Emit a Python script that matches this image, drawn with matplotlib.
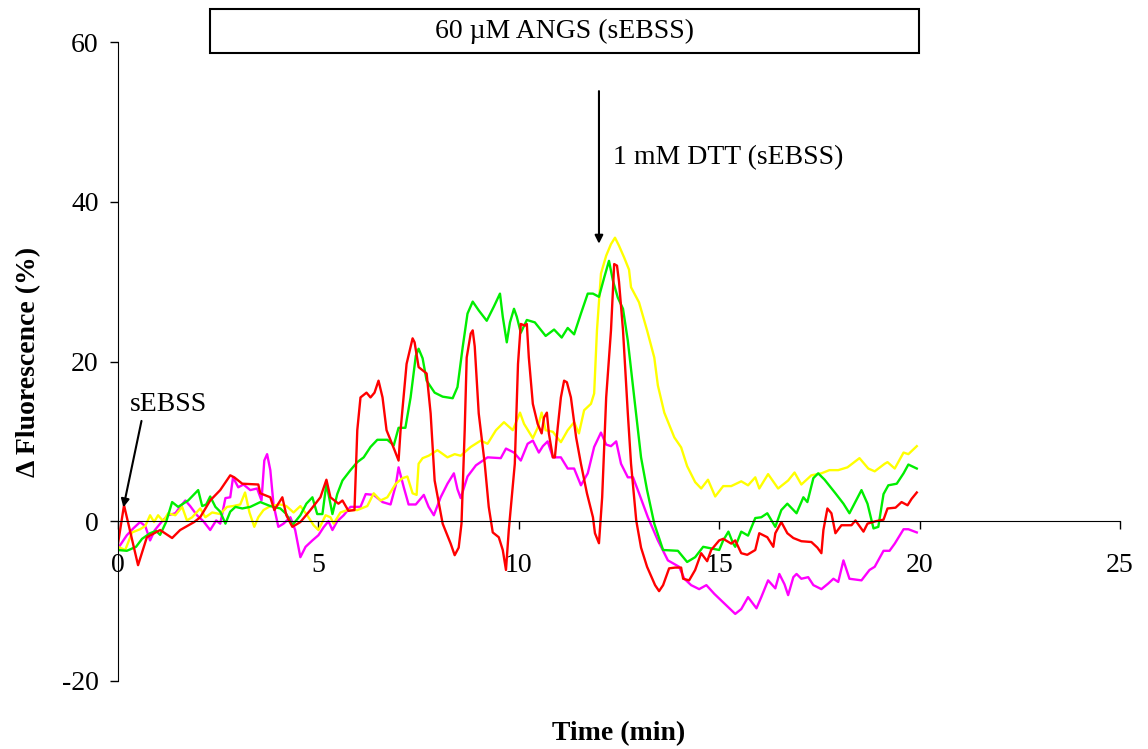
import numpy as np
import matplotlib
matplotlib.use('Agg')
import matplotlib.pyplot as plt
from matplotlib.patches import Rectangle

plt.rcParams['font.family'] = ['Liberation Serif', 'DejaVu Serif']
plt.rcParams['axes.unicode_minus'] = False

# (time in min, delta fluorescence in %)
red_pts = [
    (0, -2.8), (0.15, 2.0), (0.5, -5.5), (0.72, -2.0), (1.05, -1.1), (1.35, -2.1),
    (1.55, -1.1), (1.9, -0.1), (2.05, 0.5), (2.3, 2.6), (2.55, 3.9), (2.8, 5.75),
    (2.9, 5.5), (3.1, 4.7), (3.5, 4.6), (3.55, 3.5), (3.8, 3.0), (3.9, 1.4),
    (4.1, 3.0), (4.2, 0.75), (4.35, -0.7), (4.55, -0.1), (4.8, 1.4), (5.05, 3.0),
    (5.2, 5.2), (5.3, 3.0), (5.5, 2.2), (5.6, 2.6), (5.75, 1.3), (5.9, 1.4),
    (5.97, 11.4), (6.05, 15.5), (6.2, 16.1), (6.3, 15.5), (6.4, 16.1), (6.5, 17.6),
    (6.6, 15.5), (6.7, 11.4), (6.9, 8.9), (7.0, 7.6), (7.05, 11.4), (7.2, 19.7),
    (7.35, 22.9), (7.4, 22.4), (7.5, 19.3), (7.7, 18.5), (7.8, 13.5), (7.9, 5.1),
    (8.1, -0.3), (8.3, -2.8), (8.4, -4.25), (8.5, -3.3), (8.57, -0.3), (8.65, 11.4),
    (8.7, 20.5), (8.8, 23.5), (8.85, 23.9), (8.9, 21.9), (9.0, 13.5), (9.15, 7.2),
    (9.25, 1.8), (9.35, -1.4), (9.5, -2.0), (9.6, -3.6), (9.68, -6.1), (9.75, -1.1),
    (9.9, 7.2), (9.98, 19.7), (10.05, 24.7), (10.15, 24.5), (10.2, 24.7), (10.25, 20.5),
    (10.35, 14.7), (10.47, 12.2), (10.57, 11.0), (10.63, 13.0), (10.7, 13.6), (10.75, 11.0),
    (10.85, 8.0), (10.9, 8.0), (10.97, 11.7), (11.05, 15.5), (11.13, 17.6), (11.2, 17.4),
    (11.3, 15.5), (11.43, 10.5), (11.55, 7.2), (11.7, 3.5), (11.85, 0.5), (11.9, -1.5),
    (12.0, -2.75), (12.08, 3.0), (12.18, 15.5), (12.3, 23.9), (12.38, 32.2), (12.45, 32.0),
    (12.5, 30.0), (12.6, 23.9), (12.72, 13.5), (12.8, 7.2), (12.93, 0.1), (13.05, -3.3),
    (13.2, -5.7), (13.4, -8.0), (13.5, -8.75), (13.6, -8.0), (13.75, -5.9), (13.9, -5.8),
    (14.05, -5.8), (14.1, -7.2), (14.25, -7.4), (14.4, -6.1), (14.55, -4.0), (14.7, -5.0),
    (14.8, -3.6), (15.0, -2.4), (15.1, -2.2), (15.3, -2.8), (15.4, -2.4), (15.55, -4.0),
    (15.7, -4.2), (15.9, -3.6), (16.0, -1.5), (16.2, -2.0), (16.35, -3.2), (16.4, -1.5),
    (16.55, -0.1), (16.7, -1.5), (16.85, -2.1), (17.05, -2.5), (17.3, -2.6), (17.45, -3.3),
    (17.55, -4.0), (17.6, -1.1), (17.7, 1.6), (17.8, 1.0), (17.9, -1.5), (18.05, -0.5),
    (18.3, -0.5), (18.4, 0.1), (18.6, -1.3), (18.7, -0.3), (18.9, 0.0), (19.1, 0.2),
    (19.2, 1.6), (19.4, 1.7), (19.55, 2.4), (19.7, 2.0), (19.8, 2.8), (19.93, 3.6),
]

green_pts = [
    (0, -3.6), (0.22, -3.7), (0.45, -3.2), (0.6, -2.2), (0.8, -1.5), (0.95, -1.2),
    (1.05, -1.7), (1.2, -0.1), (1.35, 2.4), (1.5, 1.8), (1.75, 2.6), (2.0, 3.9),
    (2.1, 1.9), (2.2, 2.1), (2.3, 3.1), (2.43, 1.8), (2.55, 1.2), (2.68, -0.3),
    (2.8, 1.2), (2.93, 1.8), (3.1, 1.6), (3.3, 1.8), (3.55, 2.4), (3.8, 1.9),
    (4.05, 1.6), (4.2, 0.9), (4.35, -0.5), (4.55, 0.75), (4.7, 2.2), (4.85, 3.0),
    (4.97, 0.9), (5.1, 0.9), (5.2, 4.7), (5.35, 0.9), (5.47, 3.4), (5.6, 5.1),
    (5.8, 6.4), (5.97, 7.4), (6.13, 8.0), (6.3, 9.3), (6.47, 10.2), (6.72, 10.2),
    (6.88, 9.5), (7.0, 11.7), (7.17, 11.7), (7.3, 15.5), (7.43, 20.7), (7.5, 21.6),
    (7.6, 20.4), (7.7, 17.6), (7.9, 16.1), (8.1, 15.6), (8.35, 15.4), (8.47, 16.8),
    (8.6, 21.8), (8.72, 26.0), (8.85, 27.5), (9.0, 26.4), (9.2, 25.1), (9.38, 26.9),
    (9.53, 28.5), (9.6, 25.6), (9.7, 22.4), (9.78, 24.9), (9.88, 26.6), (9.95, 25.6),
    (10.05, 23.6), (10.2, 25.2), (10.4, 24.9), (10.67, 23.2), (10.88, 24.0), (11.07, 23.0),
    (11.22, 24.2), (11.38, 23.4), (11.55, 26.0), (11.72, 28.5), (11.85, 28.5), (12.0, 28.1),
    (12.13, 30.5), (12.25, 32.6), (12.35, 30.1), (12.47, 28.0), (12.6, 26.6), (12.72, 22.6),
    (12.88, 15.5), (13.05, 8.0), (13.2, 3.9), (13.38, -0.3), (13.6, -3.6), (13.97, -3.7),
    (14.2, -5.1), (14.4, -4.5), (14.6, -3.2), (14.8, -3.4), (15.0, -3.6), (15.1, -2.4),
    (15.23, -1.3), (15.35, -2.8), (15.4, -3.2), (15.55, -1.3), (15.72, -1.8), (15.9, 0.4),
    (16.05, 0.5), (16.2, 1.0), (16.4, -0.7), (16.55, 1.4), (16.7, 2.2), (16.93, 1.0),
    (17.1, 3.0), (17.2, 2.4), (17.35, 5.4), (17.47, 6.0), (17.63, 5.2), (17.9, 3.5),
    (18.1, 2.2), (18.25, 1.0), (18.55, 3.9), (18.7, 2.2), (18.85, -0.9), (18.97, -0.7),
    (19.1, 3.4), (19.22, 4.5), (19.43, 4.7), (19.6, 6.0), (19.72, 7.1), (19.93, 6.6),
]

yellow_pts = [
    (0, -3.2), (0.18, -3.6), (0.35, -1.4), (0.55, -1.0), (0.68, -0.6), (0.8, 0.75),
    (0.9, -0.1), (1.0, 0.75), (1.13, 0.0), (1.25, 1.0), (1.43, 0.75), (1.6, 1.8),
    (1.72, 0.1), (1.85, 0.5), (2.05, 1.6), (2.18, 0.5), (2.35, 1.1), (2.55, 0.9),
    (2.72, 1.8), (2.87, 1.9), (3.05, 2.1), (3.17, 3.6), (3.28, 1.1), (3.4, -0.7),
    (3.5, 0.5), (3.63, 1.4), (3.8, 1.9), (4.05, 2.1), (4.2, 1.9), (4.38, 1.1),
    (4.55, 1.9), (4.72, 0.75), (4.88, -0.5), (5.0, -1.1), (5.18, 0.75), (5.3, 0.5),
    (5.38, -0.3), (5.55, 1.1), (5.72, 1.4), (5.97, 1.4), (6.22, 1.9), (6.38, 3.5),
    (6.55, 2.6), (6.72, 3.0), (6.93, 4.7), (7.1, 5.4), (7.22, 5.6), (7.35, 3.5),
    (7.45, 3.3), (7.5, 7.2), (7.6, 7.9), (7.75, 8.2), (7.97, 8.9), (8.22, 8.0),
    (8.4, 8.4), (8.55, 8.2), (8.8, 9.3), (9.05, 10.1), (9.22, 9.7), (9.43, 11.4),
    (9.63, 12.4), (9.85, 11.4), (10.03, 13.6), (10.13, 12.2), (10.35, 10.4), (10.47, 11.7),
    (10.57, 13.6), (10.67, 11.4), (10.85, 11.2), (11.05, 9.9), (11.22, 11.4), (11.38, 12.4),
    (11.5, 11.0), (11.63, 13.9), (11.8, 14.7), (11.88, 16.0), (11.95, 23.9), (12.05, 31.0),
    (12.18, 33.25), (12.3, 34.7), (12.4, 35.5), (12.5, 34.5), (12.63, 33.0), (12.75, 31.5),
    (12.8, 29.3), (13.0, 27.4), (13.2, 23.9), (13.38, 20.5), (13.47, 17.0), (13.63, 13.6),
    (13.88, 10.5), (14.05, 9.25), (14.2, 6.9), (14.4, 4.9), (14.55, 4.1), (14.72, 5.2),
    (14.9, 3.1), (15.1, 4.4), (15.3, 4.4), (15.55, 5.0), (15.72, 4.5), (15.9, 5.5),
    (16.0, 4.1), (16.22, 5.9), (16.47, 4.1), (16.72, 5.1), (16.88, 6.1), (17.05, 4.6),
    (17.3, 5.75), (17.55, 6.0), (17.75, 6.4), (17.97, 6.4), (18.2, 6.75), (18.5, 7.9),
    (18.72, 6.6), (18.88, 6.25), (19.13, 7.2), (19.2, 7.4), (19.38, 6.6), (19.6, 8.6),
    (19.72, 8.4), (19.93, 9.4),
]

magenta_pts = [
    (0, -3.4), (0.22, -1.75), (0.38, -0.9), (0.55, -0.1), (0.68, -0.6), (0.8, -2.4),
    (0.92, -1.1), (1.1, 0.0), (1.25, 0.75), (1.43, 1.0), (1.55, 1.8), (1.68, 2.6),
    (1.8, 1.9), (1.97, 0.75), (2.13, 0.0), (2.3, -1.1), (2.45, 0.1), (2.55, -0.3),
    (2.68, 2.9), (2.8, 3.0), (2.87, 5.5), (3.0, 4.25), (3.13, 4.6), (3.3, 3.9),
    (3.47, 4.1), (3.58, 2.6), (3.65, 7.6), (3.72, 8.4), (3.8, 6.4), (3.88, 2.1),
    (4.0, -0.7), (4.13, -0.3), (4.3, 0.5), (4.42, -1.1), (4.55, -4.5), (4.68, -3.2),
    (4.85, -2.4), (5.0, -1.75), (5.13, -0.75), (5.25, 0.0), (5.35, -1.1), (5.47, 0.0),
    (5.63, 0.75), (5.8, 1.8), (6.05, 1.8), (6.18, 3.4), (6.38, 3.3), (6.6, 2.4),
    (6.8, 2.1), (6.93, 4.5), (7.0, 6.75), (7.13, 4.25), (7.25, 2.1), (7.43, 2.1),
    (7.63, 3.3), (7.75, 1.8), (7.88, 0.75), (8.05, 3.0), (8.22, 4.7), (8.38, 6.0),
    (8.47, 4.0), (8.55, 2.9), (8.72, 5.6), (8.93, 7.0), (9.22, 8.0), (9.55, 7.9),
    (9.68, 9.1), (9.88, 8.6), (10.05, 7.6), (10.22, 9.7), (10.35, 10.1), (10.5, 8.6),
    (10.6, 9.4), (10.72, 10.0), (10.85, 8.0), (11.05, 8.0), (11.22, 6.6), (11.38, 6.6),
    (11.55, 4.5), (11.72, 6.0), (11.88, 9.3), (12.05, 11.1), (12.18, 9.6), (12.3, 9.4),
    (12.43, 10.0), (12.55, 7.2), (12.72, 5.5), (12.85, 5.5), (13.0, 3.5), (13.22, 0.5),
    (13.47, -2.4), (13.72, -4.9), (14.0, -5.7), (14.13, -7.2), (14.3, -8.0), (14.5, -8.5),
    (14.68, -8.0), (14.88, -9.1), (15.13, -10.3), (15.4, -11.6), (15.55, -11.0), (15.72, -9.5),
    (15.93, -10.9), (16.05, -9.5), (16.22, -7.4), (16.4, -8.4), (16.5, -6.6), (16.63, -7.9),
    (16.72, -9.25), (16.85, -7.0), (16.93, -6.6), (17.05, -7.2), (17.22, -7.0), (17.35, -8.0),
    (17.55, -8.5), (17.72, -7.8), (17.85, -7.2), (17.97, -7.6), (18.1, -4.9), (18.25, -7.2),
    (18.55, -7.4), (18.75, -6.1), (18.88, -5.7), (19.1, -3.7), (19.25, -3.7), (19.38, -2.8),
    (19.6, -1.0), (19.72, -1.0), (19.93, -1.4),
]

x_ticks = [0, 5, 10, 15, 20, 25]
y_ticks = [-20, 0, 20, 40, 60]


def main():
    fig = plt.figure(figsize=(11.48, 7.49), dpi=100)
    ax = fig.add_axes([0.1028, 0.0908, 0.8728, 0.8531])

    series = [
        (magenta_pts, '#ff00ff'),
        (yellow_pts, '#ffff00'),
        (green_pts, '#00ee00'),
        (red_pts, '#ff0000'),
    ]
    for pts, color in series:
        t, v = np.array(pts).T
        ax.plot(t, v, color=color, lw=1.7)

    ax.set_xlim(0, 25)
    ax.set_ylim(-20, 60)
    ax.set_xticks(x_ticks)
    ax.set_yticks(y_ticks)

    ax.spines['top'].set_visible(False)
    ax.spines['right'].set_visible(False)
    ax.spines['bottom'].set_position(('data', 0))
    ax.tick_params(axis='x', direction='out', length=6, width=1, pad=17, labelsize=20)
    ax.tick_params(axis='y', direction='out', length=6, width=1, pad=8, labelsize=20)

    ax.set_xlabel('Time (min)', fontsize=20, fontweight='bold')
    ax.set_ylabel('Δ Fluorescence (%)', fontsize=20, fontweight='bold')
    ax.xaxis.set_label_coords(0.5, -0.063)
    ax.yaxis.set_label_coords(-0.077, 0.5)

    # treatment bar above the plot
    ax.add_patch(Rectangle((2.3, 58.6), 17.68, 5.5, fill=False, lw=1.5,
                           edgecolor='black', clip_on=False))
    ax.text(11.14, 61.35, '60 µM ANGS (sEBSS)', ha='center', va='center',
            fontsize=20)

    ax.annotate('', xy=(12.0, 34.4), xytext=(12.0, 54.2),
                arrowprops=dict(arrowstyle='-|>', color='black', lw=1.5,
                                mutation_scale=12))
    ax.text(12.35, 45.5, '1 mM DTT (sEBSS)', ha='left', va='center', fontsize=20)

    ax.annotate('', xy=(0.12, 1.4), xytext=(0.6, 12.9),
                arrowprops=dict(arrowstyle='-|>', color='black', lw=1.5,
                                mutation_scale=12))
    ax.text(1.25, 14.6, 'sEBSS', ha='center', va='center', fontsize=20)

    fig.savefig('out.png', dpi=100)


if __name__ == '__main__':
    main()
